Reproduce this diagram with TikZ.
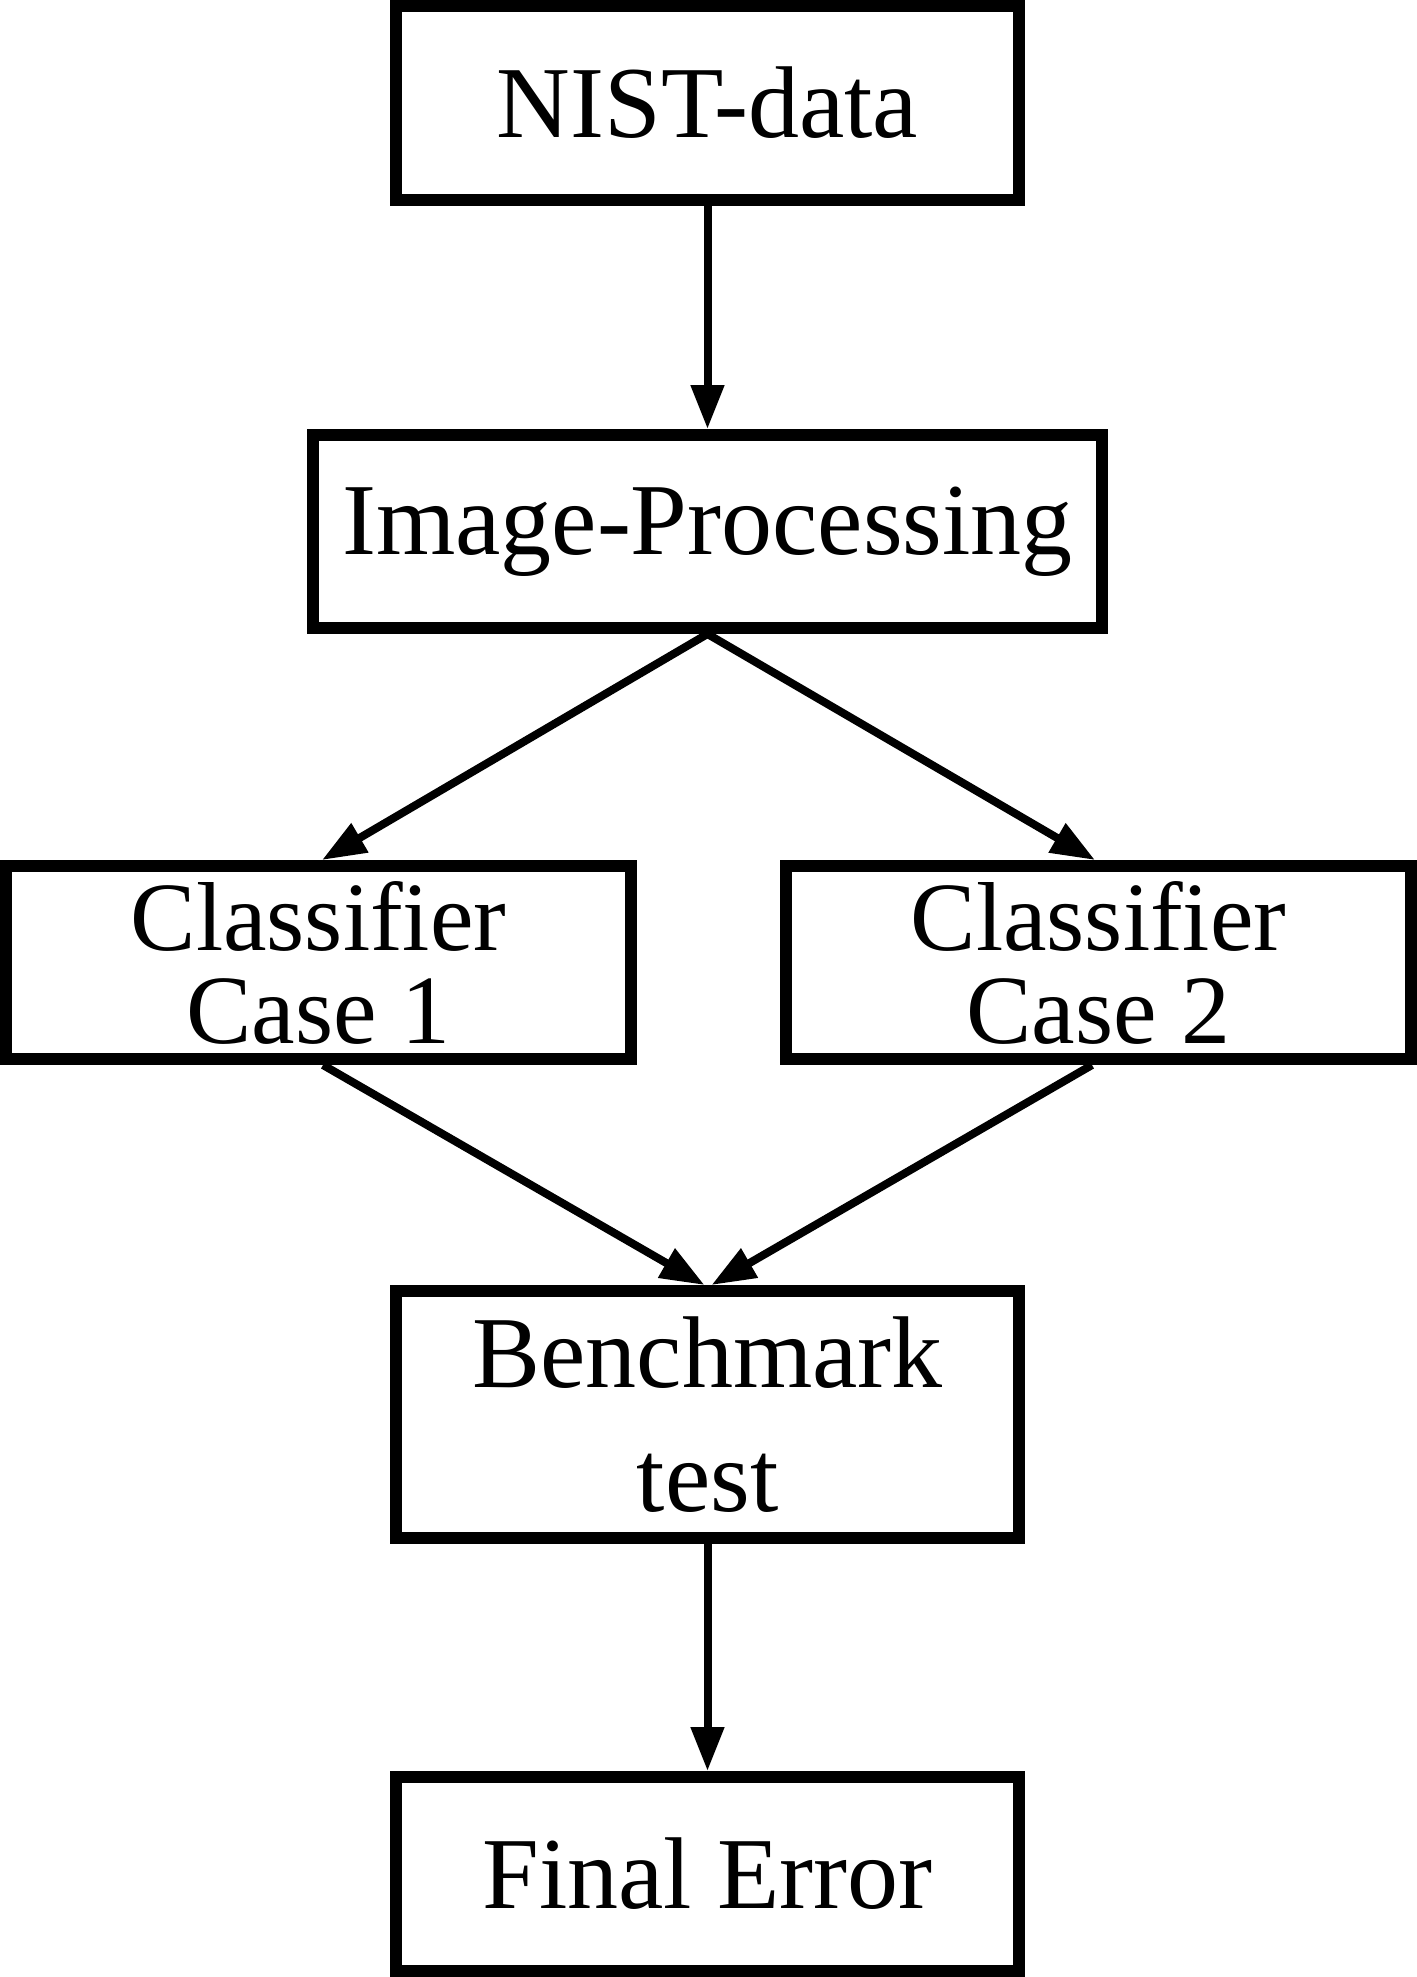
\documentclass[tikz,border=0pt]{standalone}
\usepackage{fontspec}
\setmainfont{Liberation Serif}
\usetikzlibrary{arrows.meta,calc}
\begin{document}
\begin{tikzpicture}[x=0.5pt,y=-0.5pt,
  box/.style={draw=black,line width=6pt,inner sep=0pt,align=center,
    font=\fontsize{51}{45}\selectfont},
  twoline/.style={font=\fontsize{49}{46.5}\selectfont},
  conn/.style={line width=4pt,-{Triangle[length=22pt,width=16pt]}}]
\useasboundingbox (0,0) rectangle (1417,1977);
\node[box,minimum width=623pt/2,minimum height=194pt/2] (nist) at (707.5,103) {NIST-data};
\node[box,minimum width=789pt/2,minimum height=193pt/2] (img) at (707.5,531.5) {Image-Processing};
\node[box,twoline,minimum width=625pt/2,minimum height=193pt/2] (c1) at (318.5,962.5) {Classifier\\Case 1};
\node[box,twoline,minimum width=625pt/2,minimum height=193pt/2] (c2) at (1098.5,962.5) {Classifier\\Case 2};
\node[box,minimum width=623pt/2,minimum height=247pt/2,font=\fontsize{51}{62}\selectfont] (bench) at (707.5,1414.5) {Benchmark\\test};
\node[box,minimum width=623pt/2,minimum height=194pt/2] (final) at (707.5,1874) {Final Error};
\draw[conn] (nist.south) -- (img.north);
\draw[conn] (img.south) -- ($(c1.north)+(3.5,0)$);
\draw[conn] (img.south) -- ($(c2.north)+(-3.5,0)$);
\draw[conn] ($(c1.south)+(4.5,0)$) -- ($(bench.north)+(-3,0)$);
\draw[conn] ($(c2.south)+(-6.5,0)$) -- ($(bench.north)+(4,0)$);
\draw[conn] (bench.south) -- (final.north);
\end{tikzpicture}
\end{document}
